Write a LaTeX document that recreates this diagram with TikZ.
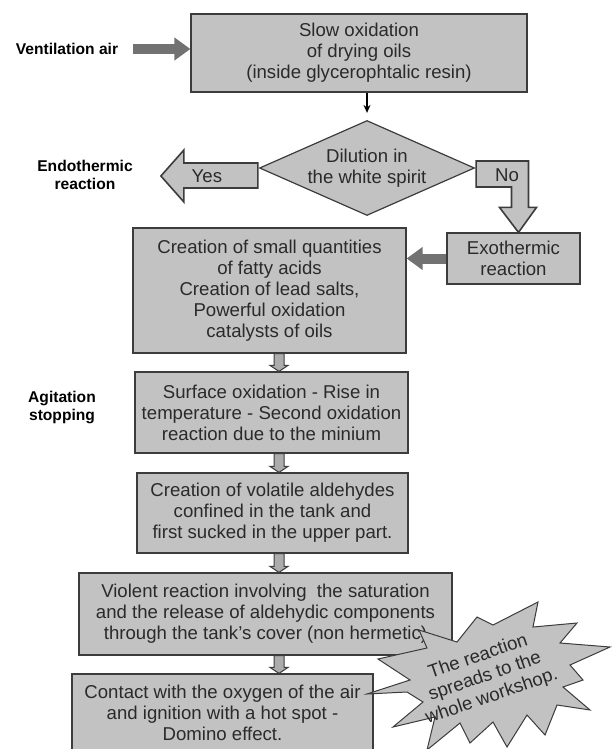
\documentclass[tikz,border=0pt]{standalone}
\usepackage{fontspec}
\setmainfont{Liberation Sans}
\usetikzlibrary{calc,arrows.meta,shapes.geometric}

\definecolor{boxgray}{HTML}{C2C2C2}
\definecolor{edgegray}{HTML}{3C3C3C}
\definecolor{arrowgray}{HTML}{727272}
\definecolor{inkgray}{HTML}{2A2A2A}

\begin{document}
\begin{tikzpicture}[x=0.5pt, y=-0.5pt,
  flowbox/.style={draw=edgegray, line width=0.6pt, fill=boxgray, text=inkgray, align=center, inner sep=2pt, font=\fontsize{9.3}{10.5}\selectfont},
  decision/.style={diamond, aspect=2.26, draw=edgegray, line width=0.6pt, fill=boxgray, text=inkgray, align=center, inner sep=0pt, font=\fontsize{9.3}{10.5}\selectfont},
  sidelabel/.style={align=center, font=\bfseries\fontsize{7.8}{9}\selectfont},
  blockarrow/.style={draw=edgegray, line width=0.8pt, fill=boxgray, line join=miter},
  smallarrow/.style={draw=edgegray, line width=0.5pt, fill=gray!65},
  thickarrow/.style={draw=arrowgray, line width=5pt, -{Triangle[length=8pt,width=11pt]}},
  thinarrow/.style={draw=black, line width=0.7pt, -{Stealth[length=4pt,width=3.5pt]}}]
\useasboundingbox (0,0) rectangle (615,749);

% process boxes
\node[flowbox, minimum width=168pt, minimum height=39pt] (top) at (359,53) {Slow oxidation\\of drying oils\\(inside glycerophtalic resin)};
\node[decision, minimum width=107.5pt, minimum height=47.5pt] (dil) at (367,168) {Dilution in\\the white spirit};
\node[flowbox, minimum width=66.5pt, minimum height=25.5pt] (exo) at (513.5,258.5) {Exothermic\\reaction};
\node[flowbox, minimum width=136.5pt, minimum height=62.5pt] (c1) at (269.5,290.5) {Creation of small quantities\\of fatty acids\\Creation of lead salts,\\Powerful oxidation\\catalysts of oils};
\node[flowbox, minimum width=136.5pt, minimum height=40.5pt] (c2) at (271.5,412.5) {Surface oxidation - Rise in\\temperature - Second oxidation\\reaction due to the minium};
\node[flowbox, minimum width=135.5pt, minimum height=40pt] (c3) at (272.5,513) {Creation of volatile aldehydes\\confined in the tank and\\first sucked in the upper part.};
\node[flowbox, minimum width=186.5pt, minimum height=41pt] (c4) at (265.5,614) {Violent reaction involving\ \ the saturation\\and the release of aldehydic components\\through the tank's cover (non hermetic)};
\node[flowbox, minimum width=150.5pt, minimum height=39pt] (c5) at (222.5,713) {Contact with the oxygen of the air\\and ignition with a hot spot -\\Domino effect.};

% side labels
\node[sidelabel] (vent) at (67,49) {Ventilation air};
\node[sidelabel] (endo) at (85,175) {Endothermic\\reaction};
\node[sidelabel] (agit) at (62,407) {Agitation\\stopping};

% connectors
\draw[thickarrow, shorten <=4pt] (vent.east) -- (vent.east -| top.west);
\draw[thinarrow, shorten >=3.5pt] (top.south -| dil.north) -- (dil.north);
\draw[thickarrow] (exo.west) -- (exo.west -| c1.east);
\draw[blockarrow] ($(dil.west)+(-1,-5)$) -- ++(-74,0) -- ++(0,-13) -- ++(-23,26) -- ++(23,26) -- ++(0,-14) -- ++(74,0) -- cycle;
\node[text=inkgray, font=\fontsize{9.3}{10.5}\selectfont] (yes) at ($(dil.west)+(-52,8)$) {Yes};
\coordinate (notip) at ($(exo.north)+(5,0)$);
\draw[blockarrow] ($(dil.east)+(1,-7)$) -| ($(notip)+(10,-25)$) -- ++(8,0) -- (notip) -- ++(-19,-25) -- ++(12,0) |- ($(dil.east)+(1,19)$) -- cycle;
\node[text=inkgray, font=\fontsize{9.3}{10.5}\selectfont] (no) at ($(dil.east)+(32,7)$) {No};
\coordinate (ax) at (279,0);
\foreach \u/\v in {c1/c2,c2/c3,c3/c4,c4/c5} {
  \coordinate (\u-out) at (\u.south -| ax);
  \coordinate (\v-in) at (\v.north -| ax);
  \draw[smallarrow] ($(\u-out)+(-5,0)$) -- ($(\v-in)+(-5,-6)$) -- ($(\v-in)+(-9,-6)$) -- (\v-in) -- ($(\v-in)+(9,-6)$) -- ($(\v-in)+(5,-6)$) -- ($(\u-out)+(5,0)$) -- cycle;
}

% starburst callout
\draw[draw=edgegray, line width=0.5pt, fill=boxgray, line join=miter] (367,694) -- (410,680) -- (378,659) -- (427,648) -- (419,630) -- (457,642) -- (477,617) -- (493,625) -- (538,602) -- (533,627) -- (577,623) -- (560,643) -- (610,647) -- (570,665) -- (583,680) -- (563,687) -- (590,710) -- (557,705) -- (545,735) -- (527,715) -- (507,747) -- (493,722) -- (470,743) -- (460,723) -- (427,750) -- (435,717) -- (393,727) -- (423,702) -- (407,692) -- cycle;
\node[rotate=19, align=center, text=inkgray, font=\fontsize{9.3}{10.5}\selectfont] (spread) at (485,677) {The reaction\\spreads to the\\whole workshop.};
\end{tikzpicture}
\end{document}
